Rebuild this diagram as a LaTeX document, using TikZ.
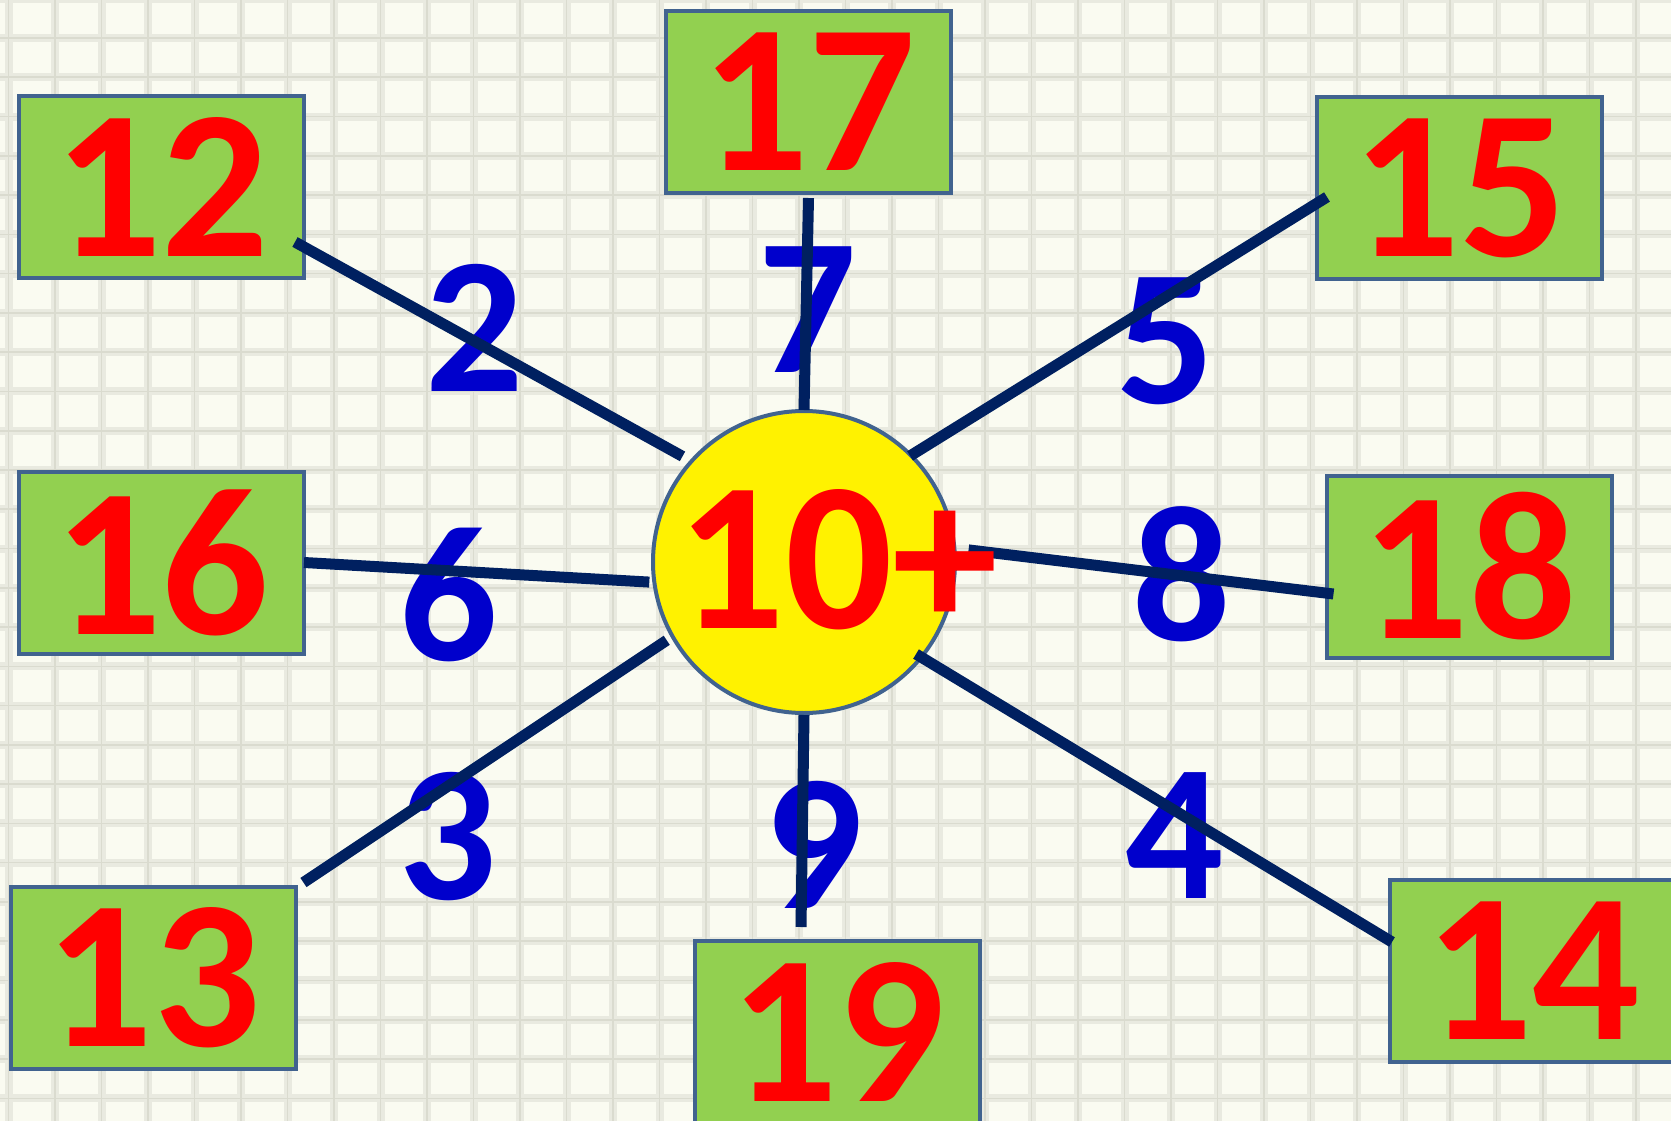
\documentclass[tikz,border=0pt]{standalone}
\usepackage{fontspec}
\setmainfont{Carlito}
\usetikzlibrary{calc}
\definecolor{bg}{HTML}{FAFBF1}
\definecolor{gridc}{HTML}{E9EAE0}
\definecolor{gridd}{HTML}{DADBCF}
\definecolor{boxg}{HTML}{92D050}
\definecolor{boxb}{HTML}{41638F}
\definecolor{navy}{HTML}{002060}
\definecolor{lblue}{HTML}{0000CC}
\definecolor{nred}{HTML}{FF0000}
\begin{document}
\begin{tikzpicture}[x=1pt,y=1pt,
  numbox/.style={draw=boxb, line width=4pt, fill=boxg, minimum width=285pt, minimum height=182pt,
    inner sep=0pt, text=nred, font=\bfseries\fontsize{212}{212}\selectfont},
  hub/.style={circle, draw=boxb, line width=4pt, fill=yellow, minimum size=302pt, inner sep=0pt},
  hubtext/.style={text=nred, inner sep=0pt, font=\bfseries\fontsize{212}{212}\selectfont},
  addend/.style={text=lblue, inner sep=0pt, font=\bfseries\fontsize{194}{194}\selectfont},
  spoke/.style={draw=navy, line width=11pt},
  gridwide/.style={draw=gridc, line width=8pt},
  gridthin/.style={draw=gridd, line width=1.6pt}]
\clip (0,0) rectangle (1671,-1121);
\fill[bg] (0,0) rectangle (1671,-1121);
% grid
\foreach \k in {-1,...,35} {
  \pgfmathsetmacro{\gx}{55+46.5*\k}
  \draw[gridwide] (\gx,0) -- (\gx,-1121);
}
\foreach \k in {-1,...,29} {
  \pgfmathsetmacro{\gy}{-38-39.27*\k}
  \draw[gridwide] (0,\gy) -- (1671,\gy);
}
\foreach \k in {-1,...,35} {
  \pgfmathsetmacro{\gx}{55+46.5*\k}
  \draw[gridthin] (\gx,0) -- (\gx,-1121);
}
\foreach \k in {-1,...,29} {
  \pgfmathsetmacro{\gy}{-38-39.27*\k}
  \draw[gridthin] (0,\gy) -- (1671,\gy);
}
% boxes
\node[numbox] (b12) at (161.5,-187) {12};
\node[numbox] (b17) at (808.5,-102) {17};
\node[numbox] (b15) at (1459.5,-188) {15};
\node[numbox] (b16) at (161.5,-562.5) {16};
\node[numbox] (b18) at (1469,-566.5) {18};
\node[numbox] (b13) at (153,-977.5) {13};
\node[numbox] (b19) at (837.5,-1032) {19};
\node[numbox] (b14) at (1532.5,-971) {14};
% addends
\node[addend] (l2) at (475,-328) {2};
\node[addend] (l7) at (808,-310) {7};
\node[addend] (l5) at (1166,-341) {5};
\node[addend] (l6) at (449,-595) {6};
\node[addend] (l8) at (1182,-574) {8};
\node[addend] (l3) at (448,-837) {3};
\node[addend] (l9) at (814,-845) {9};
\node[addend] (l4) at (1175,-836) {4};
% hub
\node[hub] (c) at (804,-562) {};
% spokes
\draw[spoke] ($(b12.east)+(-11,-55)$) -- ($(c.center)+(139:161)$);
\draw[spoke] ($(b17.south)+(0,-3)$) -- ($(c.center)+(90:152)$);
\draw[spoke] ($(b15.west)+(12,-9)$) -- ($(c.center)+(45:150)$);
\draw[spoke] ($(b16.east)+(-2,0)$) -- ($(c.center)+(187.4:156)$);
\draw[spoke] ($(b18.west)+(9,-27.5)$) -- ($(c.center)+(4.2:165)$);
\draw[spoke] ($(b13.north east)+(6,2)$) -- ($(c.center)+(209.7:158)$);
\draw[spoke] ($(b19.north)+(-36.5,12)$) -- ($(c.center)+(270:153)$);
\draw[spoke] ($(b14.west)+(4,29)$) -- ($(c.center)+(-39.4:145)$);
\node[hubtext] (ht) at (838,-560) {10+};
\end{tikzpicture}
\end{document}
